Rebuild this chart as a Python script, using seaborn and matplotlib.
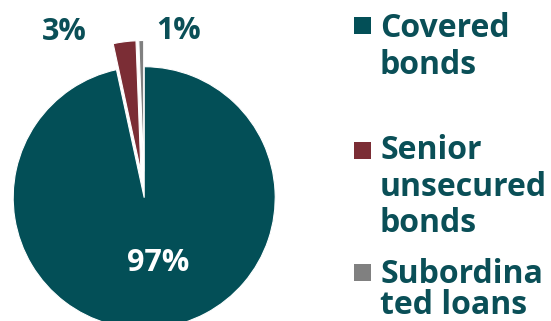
import matplotlib
matplotlib.use("Agg")
import matplotlib.pyplot as plt
import seaborn as sns
import numpy as np
from matplotlib.patches import Rectangle

# ---- data ----
categories = ["Covered bonds", "Senior unsecured bonds", "Subordinated loans"]
legend_lines = [["Covered", "bonds"], ["Senior", "unsecured", "bonds"], ["Subordina", "ted loans"]]
shares = [96.7, 2.8, 0.6]
pct_labels = ["97%", "3%", "1%"]
colors = ["#034F57", "#7B2D35", "#808080"]
explode = [0.0, 0.2, 0.2]

sns.set_theme(style="white")
plt.rcParams["font.family"] = ["Open Sans", "DejaVu Sans"]
text_color = "#0A4F57"

W, H = 551, 321
fig = plt.figure(figsize=(W / 100, H / 100), dpi=100)
ax = fig.add_axes([0, 0, 1, 1])

# pie geometry in pixels
cx, cy, R = 144.2, 197.7, 131.0

wedges, _ = ax.pie(shares, colors=colors, startangle=90, counterclock=False,
                   explode=explode, radius=1.0,
                   wedgeprops=dict(edgecolor="white", linewidth=0.8))
ax.set_axis_off()
ax.set_xlim(-cx / R, (W - cx) / R)
ax.set_ylim(-(H - cy) / R, cy / R)
ax.set_aspect("equal", adjustable="datalim")

fs = 23
# 97% label inside main slice at its mid angle
w0 = wedges[0]
mid = np.deg2rad((w0.theta1 + w0.theta2) / 2)
ax.text(0.5 * np.cos(mid) + 0.05, 0.5 * np.sin(mid), pct_labels[0], color="white",
        fontsize=fs - 1, fontweight="bold", ha="center", va="center")

# outside labels for small slices (pixel positions of the label centres)
def px(x, y):
    return (x - cx) / R, (cy - y) / R

ax.text(*px(64, 32), pct_labels[1], color=text_color, fontsize=fs - 1,
        fontweight="bold", ha="center", va="center")
ax.text(*px(179, 31), pct_labels[2], color=text_color, fontsize=fs - 1,
        fontweight="bold", ha="center", va="center")

# legend drawn manually
sq_tops = [17, 142, 264]
baselines = [[36.7, 74], [159, 196, 232], [283, 314]]
for i, lines in enumerate(legend_lines):
    fig.patches.append(Rectangle((354 / W, 1 - (sq_tops[i] + 17) / H), 17 / W, 17 / H,
                                 transform=fig.transFigure, facecolor=colors[i],
                                 edgecolor="none"))
    for line, b in zip(lines, baselines[i]):
        fig.text(380 / W, 1 - b / H, line, color=text_color, fontsize=fs,
                 fontweight="bold", ha="left", va="baseline")

fig.savefig("out.png", dpi=100)
